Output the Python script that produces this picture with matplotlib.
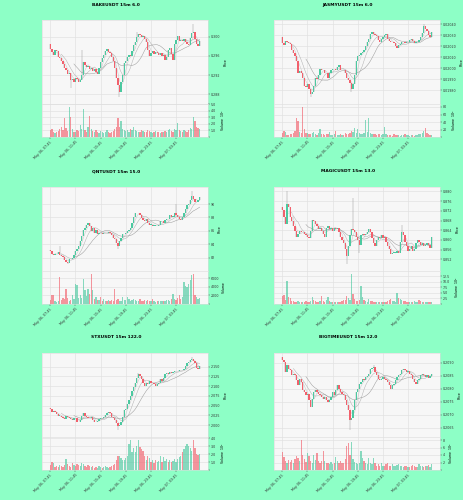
import numpy as np
import pandas as pd
import matplotlib
matplotlib.use("Agg")
import matplotlib.pyplot as plt
from matplotlib.ticker import MaxNLocator, FuncFormatter

# ---------------- data ----------------
titles = ["BAKEUSDT 15m 6.0", "JASMYUSDT 15m 6.0", "QNTUSDT 15m 15.0",
          "MAGICUSDT 15m 13.0", "STXUSDT 15m 122.0", "BIGTIMEUSDT 15m 12.0"]
start_time = "2024-05-06 07:45"
n_candles = 96

bake_open0 = 0.2984
bake_close = [0.2975, 0.2968, 0.2962, 0.2972, 0.2970, 0.2958, 0.2955, 0.2950, 0.2944, 0.2936,
              0.2930, 0.2922, 0.2925, 0.2909, 0.2912, 0.2906, 0.2914, 0.2911, 0.2905, 0.2909,
              0.2920, 0.2948, 0.2942, 0.2937, 0.2940, 0.2933, 0.2935, 0.2929, 0.2932, 0.2927,
              0.2922, 0.2935, 0.2948, 0.2955, 0.2963, 0.2970, 0.2975, 0.2968, 0.2966, 0.2958,
              0.2950, 0.2934, 0.2915, 0.2900, 0.2885, 0.2905, 0.2920, 0.2945, 0.2950, 0.2958,
              0.2963, 0.2960, 0.2970, 0.2982, 0.2990, 0.3000, 0.3006, 0.3003, 0.3000, 0.3002,
              0.2995, 0.2990, 0.2972, 0.2960, 0.2966, 0.2970, 0.2965, 0.2968, 0.2966, 0.2962,
              0.2966, 0.2960, 0.2963, 0.2952, 0.2958, 0.2972, 0.2977, 0.2965, 0.2951, 0.2984,
              0.2994, 0.3002, 0.2992, 0.2994, 0.2991, 0.2995, 0.2989, 0.2985, 0.2982, 0.2998,
              0.3008, 0.3010, 0.2996, 0.2985, 0.2980, 0.2992]
bake_high = {20: 0.2973, 91: 0.3026, 55: 0.3010}
bake_low = {44: 0.2875, 13: 0.2893}
bake_volume = [1.0, 1.2, 0.8, 0.6, 0.7, 0.9, 1.3, 1.6, 1.1, 2.9, 1.4, 0.9, 4.6, 3.1, 1.2, 0.8,
               0.7, 1.0, 0.9, 1.9, 1.2, 4.35, 1.0, 0.8, 1.5, 3.25, 1.3, 0.9, 0.7, 1.1, 0.8, 0.6,
               0.9, 0.7, 0.6, 0.8, 1.0, 0.7, 0.6, 0.8, 0.9, 1.2, 1.5, 2.9, 1.6, 2.4, 1.3, 1.1,
               0.9, 1.0, 0.8, 1.2, 1.0, 1.5, 1.1, 0.9, 0.8, 0.7, 1.0, 0.9, 0.8, 0.7, 1.1, 0.9,
               0.8, 0.6, 0.7, 0.9, 0.8, 0.7, 0.6, 0.8, 0.7, 0.9, 0.8, 1.0, 1.2, 0.9, 0.8, 1.3,
               1.1, 2.1, 1.0, 0.9, 0.8, 1.0, 0.9, 0.8, 1.1, 1.4, 1.2, 3.0, 2.4, 1.6, 1.4, 1.2]

jasmy_open0 = 0.020283
jasmy_close = [0.020230, 0.020215, 0.020245, 0.020240, 0.020230, 0.020225, 0.020170, 0.020140,
               0.020110, 0.020068, 0.019960, 0.019975, 0.019954, 0.019911, 0.019840, 0.019825,
               0.019860, 0.019811, 0.019768, 0.019782, 0.019840, 0.019911, 0.019900, 0.019940,
               0.019997, 0.019985, 0.019982, 0.019960, 0.019954, 0.019911, 0.019960, 0.019982,
               0.019990, 0.019997, 0.019982, 0.020011, 0.020025, 0.019982, 0.019985, 0.019982,
               0.019954, 0.019911, 0.019890, 0.019868, 0.019811, 0.019860, 0.019940, 0.020068,
               0.020111, 0.020120, 0.020140, 0.020150, 0.020168, 0.020200, 0.020240, 0.020270,
               0.020311, 0.020326, 0.020315, 0.020300, 0.020297, 0.020260, 0.020240, 0.020270,
               0.020283, 0.020300, 0.020311, 0.020268, 0.020250, 0.020240, 0.020235, 0.020226,
               0.020200, 0.020183, 0.020211, 0.020225, 0.020235, 0.020240, 0.020226, 0.020235,
               0.020240, 0.020255, 0.020268, 0.020250, 0.020226, 0.020235, 0.020240, 0.020255,
               0.020283, 0.020320, 0.020383, 0.020360, 0.020340, 0.020300, 0.020283, 0.020326]
jasmy_high = {90: 0.020400}
jasmy_low = {18: 0.019740, 44: 0.019780}
jasmy_volume = [10, 17, 13, 6, 5, 7, 8, 10, 15, 52, 43, 14, 12, 80, 22, 12,
                10, 8, 9, 12, 14, 8, 6, 10, 22, 9, 7, 6, 8, 9, 14, 6,
                5, 7, 15, 6, 5, 7, 6, 5, 11, 7, 9, 12, 16, 14, 23, 12,
                22, 10, 9, 8, 12, 45, 14, 52, 11, 9, 8, 7, 6, 8, 7, 6,
                9, 26, 7, 5, 6, 5, 4, 8, 5, 6, 5, 4, 6, 5, 7, 6,
                5, 4, 6, 5, 4, 6, 5, 7, 9, 12, 17, 24, 10, 8, 6, 5]

qnt_open0 = 83.20
qnt_close = [83.06, 82.58, 82.44, 82.53, 82.58, 82.82, 82.44, 82.24, 82.10, 81.62, 81.40, 81.28, 81.86, 81.76, 81.95, 82.34,
             83.00, 83.31, 83.79, 84.51, 85.24, 86.20, 86.45, 86.93, 87.17, 86.69, 85.96, 86.45, 85.72, 86.20, 85.48, 85.72,
             85.62, 85.58, 85.62, 85.72, 85.62, 85.82, 85.72, 85.33, 85.00, 84.76, 84.27, 83.79, 84.51, 85.00, 85.48, 85.60,
             85.72, 85.96, 86.20, 86.45, 87.17, 88.14, 88.62, 88.62, 88.72, 88.38, 87.89, 87.65, 87.41, 87.75, 87.17, 86.93,
             86.93, 86.78, 86.78, 86.78, 86.69, 86.93, 87.41, 87.41, 87.17, 87.56, 87.75, 87.75, 88.38, 88.14, 88.14, 88.62,
             88.38, 88.14, 87.75, 87.56, 88.14, 88.62, 89.34, 89.83, 90.07, 90.55, 91.28, 90.79, 90.31, 90.31, 90.55, 91.03]
qnt_high = {6: 83.79, 80: 90.07, 90: 91.90}
qnt_low = {43: 83.31, 11: 81.10}
qnt_volume = [900, 2000, 2200, 700, 500, 800, 6300, 900, 1300, 1200, 3500, 1400, 800, 1000, 2000, 1100,
              4700, 4500, 1300, 2200, 1500, 5900, 3200, 1800, 3500, 2400, 6900, 3200, 1200, 1600, 900, 1000,
              1600, 800, 1200, 700, 600, 900, 700, 1000, 800, 3500, 900, 1200, 800, 700, 1600, 1000,
              900, 1600, 1200, 800, 1000, 1200, 900, 700, 800, 1200, 700, 600, 900, 800, 1000, 700,
              600, 1200, 700, 500, 600, 700, 800, 600, 800, 700, 900, 1000, 800, 1100, 2400, 1200,
              900, 1300, 2000, 1100, 1600, 5100, 4300, 3900, 4700, 5500, 6700, 7000, 2000, 1600, 1200, 1500]

magic_open0 = 0.8735
magic_close = [0.8722, 0.8696, 0.8664, 0.8748, 0.8735, 0.8696, 0.8677, 0.8658, 0.8638, 0.8612,
               0.8625, 0.8638, 0.8632, 0.8632, 0.8625, 0.8619, 0.8612, 0.8606, 0.8638, 0.8684,
               0.8677, 0.8664, 0.8658, 0.8645, 0.8651, 0.8638, 0.8625, 0.8612, 0.8651, 0.8658,
               0.8645, 0.8651, 0.8638, 0.8651, 0.8645, 0.8651, 0.8632, 0.8612, 0.8599, 0.8586,
               0.8561, 0.8535, 0.8574, 0.8619, 0.8645, 0.8640, 0.8632, 0.8612, 0.8599, 0.8580,
               0.8619, 0.8625, 0.8619, 0.8625, 0.8632, 0.8645, 0.8632, 0.8606, 0.8586, 0.8574,
               0.8599, 0.8612, 0.8606, 0.8619, 0.8606, 0.8612, 0.8593, 0.8574, 0.8561, 0.8541,
               0.8548, 0.8548, 0.8548, 0.8554, 0.8548, 0.8593, 0.8632, 0.8619, 0.8593, 0.8574,
               0.8554, 0.8561, 0.8574, 0.8554, 0.8561, 0.8586, 0.8599, 0.8593, 0.8580, 0.8586,
               0.8574, 0.8580, 0.8586, 0.8580, 0.8567, 0.8612]
magic_high = {3: 0.8800, 45: 0.8774, 76: 0.8660}
magic_low = {41: 0.8502, 49: 0.8545}
magic_volume = [3.4, 3.8, 2.0, 10.4, 3.2, 2.5, 1.5, 1.2, 1.0, 0.8, 1.2, 1.0, 0.9, 0.7, 1.1, 1.3,
                1.0, 0.9, 1.5, 3.2, 2.0, 1.2, 1.0, 0.8, 1.4, 3.6, 1.5, 1.0, 1.8, 3.2, 1.2, 0.9,
                0.8, 1.0, 0.7, 0.9, 1.1, 1.0, 1.3, 1.6, 2.0, 3.4, 2.5, 1.8, 13.4, 4.5, 2.2, 1.5,
                1.2, 2.0, 8.2, 3.0, 1.8, 1.2, 1.0, 2.1, 1.4, 1.2, 1.0, 0.8, 1.1, 1.0, 0.9, 0.8,
                0.7, 1.0, 0.9, 1.2, 1.6, 2.4, 1.5, 1.2, 1.0, 4.9, 2.5, 2.2, 1.8, 1.4, 1.2, 1.0,
                0.9, 1.1, 0.8, 0.9, 1.3, 1.0, 0.9, 1.6, 1.2, 1.1, 0.8, 0.9, 1.0, 0.8, 0.7, 0.9]

stx_open0 = 2.0450
stx_close = [2.0425, 2.0342, 2.0358, 2.0342, 2.0275, 2.0242, 2.0242, 2.0217, 2.0175, 2.0158,
             2.0242, 2.0200, 2.0175, 2.0158, 2.0133, 2.0192, 2.0175, 2.0092, 2.0067, 2.0133,
             2.0242, 2.0300, 2.0242, 2.0217, 2.0192, 2.0175, 2.0217, 2.0133, 2.0092, 2.0067,
             2.0100, 2.0150, 2.0192, 2.0175, 2.0217, 2.0258, 2.0300, 2.0342, 2.0300, 2.0217,
             2.0175, 2.0133, 2.0050, 1.9967, 2.0008, 2.0092, 2.0217, 2.0383, 2.0425, 2.0550,
             2.0633, 2.0758, 2.0883, 2.0967, 2.1092, 2.1217, 2.1300, 2.1258, 2.1175, 2.1092,
             2.1008, 2.1092, 2.1050, 2.1133, 2.1070, 2.1092, 2.1050, 2.1008, 2.1050, 2.1092,
             2.1175, 2.1133, 2.1217, 2.1300, 2.1342, 2.1317, 2.1358, 2.1342, 2.1370, 2.1383,
             2.1383, 2.1383, 2.1408, 2.1425, 2.1408, 2.1442, 2.1508, 2.1592, 2.1633, 2.1675,
             2.1690, 2.1658, 2.1592, 2.1467, 2.1440, 2.1508]
stx_high = {90: 2.1740, 56: 2.1330}
stx_low = {43: 1.9880}
stx_volume = [0.6, 1.0, 0.9, 0.4, 0.5, 0.4, 0.6, 0.5, 0.4, 0.6, 1.4, 0.8, 0.5, 0.4, 0.9, 0.6,
              0.5, 0.7, 0.6, 0.5, 0.9, 0.7, 0.5, 0.4, 0.6, 0.5, 0.4, 0.5, 0.3, 0.4, 0.3, 0.5,
              0.4, 0.3, 0.4, 0.5, 0.4, 0.3, 0.4, 0.5, 0.6, 0.8, 1.2, 1.7, 1.8, 1.5, 1.3, 1.2,
              1.5, 1.8, 3.25, 3.7, 2.2, 2.8, 2.2, 3.0, 3.7, 2.9, 2.6, 2.4, 1.8, 1.2, 1.8, 1.5,
              1.0, 1.2, 0.9, 1.3, 1.0, 1.1, 1.8, 1.0, 1.6, 1.1, 1.4, 1.0, 1.3, 1.0, 1.1, 1.4,
              1.0, 1.4, 1.6, 1.8, 2.2, 2.6, 3.0, 3.2, 3.0, 2.8, 2.4, 3.75, 2.8, 2.0, 1.9, 2.0]

bigtime_open0 = 0.20920
bigtime_close = [0.20908, 0.20901, 0.20863, 0.20889, 0.20876, 0.20870, 0.20851, 0.20857, 0.20851, 0.20832,
                 0.20813, 0.20838, 0.20825, 0.20794, 0.20788, 0.20775, 0.20781, 0.20756, 0.20731, 0.20762,
                 0.20788, 0.20794, 0.20788, 0.20781, 0.20775, 0.20769, 0.20762, 0.20769, 0.20756, 0.20750,
                 0.20756, 0.20769, 0.20788, 0.20775, 0.20794, 0.20813, 0.20800, 0.20788, 0.20781, 0.20775,
                 0.20756, 0.20737, 0.20718, 0.20680, 0.20687, 0.20718, 0.20756, 0.20788, 0.20800, 0.20819,
                 0.20825, 0.20838, 0.20832, 0.20844, 0.20850, 0.20857, 0.20876, 0.20879, 0.20882, 0.20863,
                 0.20851, 0.20838, 0.20832, 0.20838, 0.20844, 0.20838, 0.20832, 0.20825, 0.20813, 0.20800,
                 0.20813, 0.20819, 0.20832, 0.20844, 0.20851, 0.20857, 0.20870, 0.20876, 0.20873, 0.20863,
                 0.20866, 0.20857, 0.20851, 0.20838, 0.20825, 0.20819, 0.20832, 0.20838, 0.20851, 0.20857,
                 0.20853, 0.20844, 0.20851, 0.20841, 0.20848, 0.20857]
bigtime_high = {58: 0.20890}
bigtime_low = {43: 0.20642}
bigtime_volume = [4.8, 3.5, 2.5, 2.0, 2.8, 2.2, 2.6, 2.0, 3.0, 3.7, 3.2, 2.5, 8.0, 4.0, 3.0, 2.2,
                  4.5, 3.8, 2.5, 2.0, 4.0, 2.8, 4.5, 2.5, 2.0, 2.4, 5.2, 2.5, 2.0, 1.8, 1.6, 2.2,
                  1.5, 2.0, 3.5, 2.4, 1.8, 2.5, 1.8, 2.0, 3.0, 6.5, 7.1, 4.0, 7.6, 3.0, 2.2, 2.0,
                  1.6, 1.8, 5.0, 3.2, 2.5, 2.0, 1.6, 3.2, 1.8, 1.5, 3.3, 2.0, 1.2, 1.5, 1.0, 1.8,
                  1.2, 1.0, 1.5, 2.0, 1.2, 1.0, 1.6, 1.2, 1.0, 1.4, 1.6, 1.2, 1.0, 0.8, 1.0, 1.2,
                  0.9, 0.8, 1.0, 1.4, 1.2, 0.9, 0.8, 1.5, 1.2, 1.0, 0.8, 1.2, 1.0, 1.4, 0.9, 1.6]

# volume exponents shown in the label (volumes above are in those units)
vol_exp = [6, 6, 0, 5, 5, 6]
price_step = [0.004, 0.0001, 2, 0.004, 0.025, 0.0005]
price_fmt = ["{:.3f}", "{:.5f}", "{:.0f}", "{:.3f}", "{:.3f}", "{:.4f}"]
vol_fmt = ["{:.1f}", "{:.0f}", "{:.0f}", "{:.1f}", "{:.1f}", "{:.0f}"]

charts = [
    (bake_open0, bake_close, bake_high, bake_low, bake_volume),
    (jasmy_open0, jasmy_close, jasmy_high, jasmy_low, jasmy_volume),
    (qnt_open0, qnt_close, qnt_high, qnt_low, qnt_volume),
    (magic_open0, magic_close, magic_high, magic_low, magic_volume),
    (stx_open0, stx_close, stx_high, stx_low, stx_volume),
    (bigtime_open0, bigtime_close, bigtime_high, bigtime_low, bigtime_volume),
]
mav_windows = (4, 8, 16)

# ---------------- style ----------------
BG = "#8dffc6"
UP = "#4cc9a0"
DOWN = "#f2606c"
WICK = "#9a9a9a"
FACE = "#f7f7f7"
GRID = "#e2e2e2"
MAV_COLORS = ["#c8c8c8", "#b0b0b0", "#999999"]

W, H = 464, 500
fig = plt.figure(figsize=(W / 100, H / 100), dpi=100, facecolor=BG)

def px_axes(x0, y0, w, h):
    return fig.add_axes([x0 / W, 1 - (y0 + h) / H, w / W, h / H])

row_top = [20, 187, 353]
title_y = [5, 171, 337]
col_x = [42, 274]
ax_w = 166
price_h = 84
vol_h = 33

times = pd.date_range(start_time, periods=n_candles, freq="15min")
tick_idx = list(range(0, n_candles, 16))
tick_lab = [times[i].strftime("%b %d, %H:%M") for i in tick_idx]

for k, (open0, close, hspk, lspk, vol) in enumerate(charts):
    r, c = divmod(k, 2)
    x0 = col_x[c]
    y0 = row_top[r]
    axp = px_axes(x0, y0, ax_w, price_h)
    axv = px_axes(x0, y0 + price_h, ax_w, vol_h)

    cl = np.array(close, dtype=float)
    op = np.r_[open0, cl[:-1]]
    hi = np.maximum(op, cl)
    lo = np.minimum(op, cl)
    for i, v in hspk.items():
        hi[i] = max(hi[i], v)
    for i, v in lspk.items():
        lo[i] = min(lo[i], v)
    x = np.arange(len(cl))
    up = cl >= op
    cols = np.where(up, UP, DOWN)

    rng = hi.max() - lo.min()
    body = np.maximum(np.abs(cl - op), rng * 0.004)

    for ax in (axp, axv):
        ax.set_facecolor(FACE)
        ax.grid(True, color=GRID, lw=0.5)
        ax.set_axisbelow(True)
        for s in ax.spines.values():
            s.set_color("#dcdcdc")
            s.set_linewidth(0.4)
        ax.yaxis.tick_right()
        ax.yaxis.set_label_position("right")
        ax.tick_params(axis="both", labelsize=2.3, length=1.2, width=0.3,
                       pad=1, colors="#333333")
        ax.set_xlim(-5.3, n_candles - 1 + 5.3)
        ax.set_xticks(tick_idx)

    axp.vlines(x, lo, hi, color=WICK, lw=0.35, zorder=2)
    axp.bar(x, body, bottom=np.minimum(op, cl), width=0.8, color=cols,
            edgecolor="none", zorder=3)
    s = pd.Series(cl)
    for w, mc in zip(mav_windows, MAV_COLORS):
        axp.plot(x, s.rolling(w).mean(), color=mc, lw=0.35, zorder=2.5)
    ylo = lo.min() - rng * 0.10
    yhi = hi.max() + rng * 0.06
    axp.set_ylim(ylo, yhi)
    step = price_step[k]
    margin = (yhi - ylo) * 0.05
    ticks = np.arange(np.ceil((ylo + margin) / step), np.floor((yhi - margin) / step) + 1) * step
    axp.set_yticks(ticks)
    pf = price_fmt[k]
    axp.set_yticklabels([pf.format(t) for t in ticks])
    axp.tick_params(axis="x", labelbottom=False)
    axp.set_ylabel("Price", fontsize=2.3, labelpad=2)

    v = np.array(vol, dtype=float)
    axv.bar(x, v, width=0.8, color=cols, alpha=0.65, edgecolor="none", zorder=3)
    axv.set_ylim(0, v.max() * 1.1)
    axv.yaxis.set_major_locator(MaxNLocator(nbins=6, steps=[1, 2, 2.5, 5, 10], prune="upper"))
    fmt = vol_fmt[k]
    axv.yaxis.set_major_formatter(FuncFormatter(lambda val, pos, f=fmt: f.format(val) if val > 0 else ""))
    if vol_exp[k]:
        axv.set_ylabel("Volume  $10^{%d}$" % vol_exp[k], fontsize=2.3, labelpad=2)
    else:
        axv.set_ylabel("Volume", fontsize=2.3, labelpad=2)
    axv.set_xticklabels(tick_lab, rotation=45, ha="right", rotation_mode="anchor")

    fig.text((116 + 232 * c) / W, 1 - title_y[r] / H, titles[k], ha="center",
             va="center", fontsize=3.2, fontweight="bold")

fig.savefig("out.png", dpi=100, facecolor=BG)
